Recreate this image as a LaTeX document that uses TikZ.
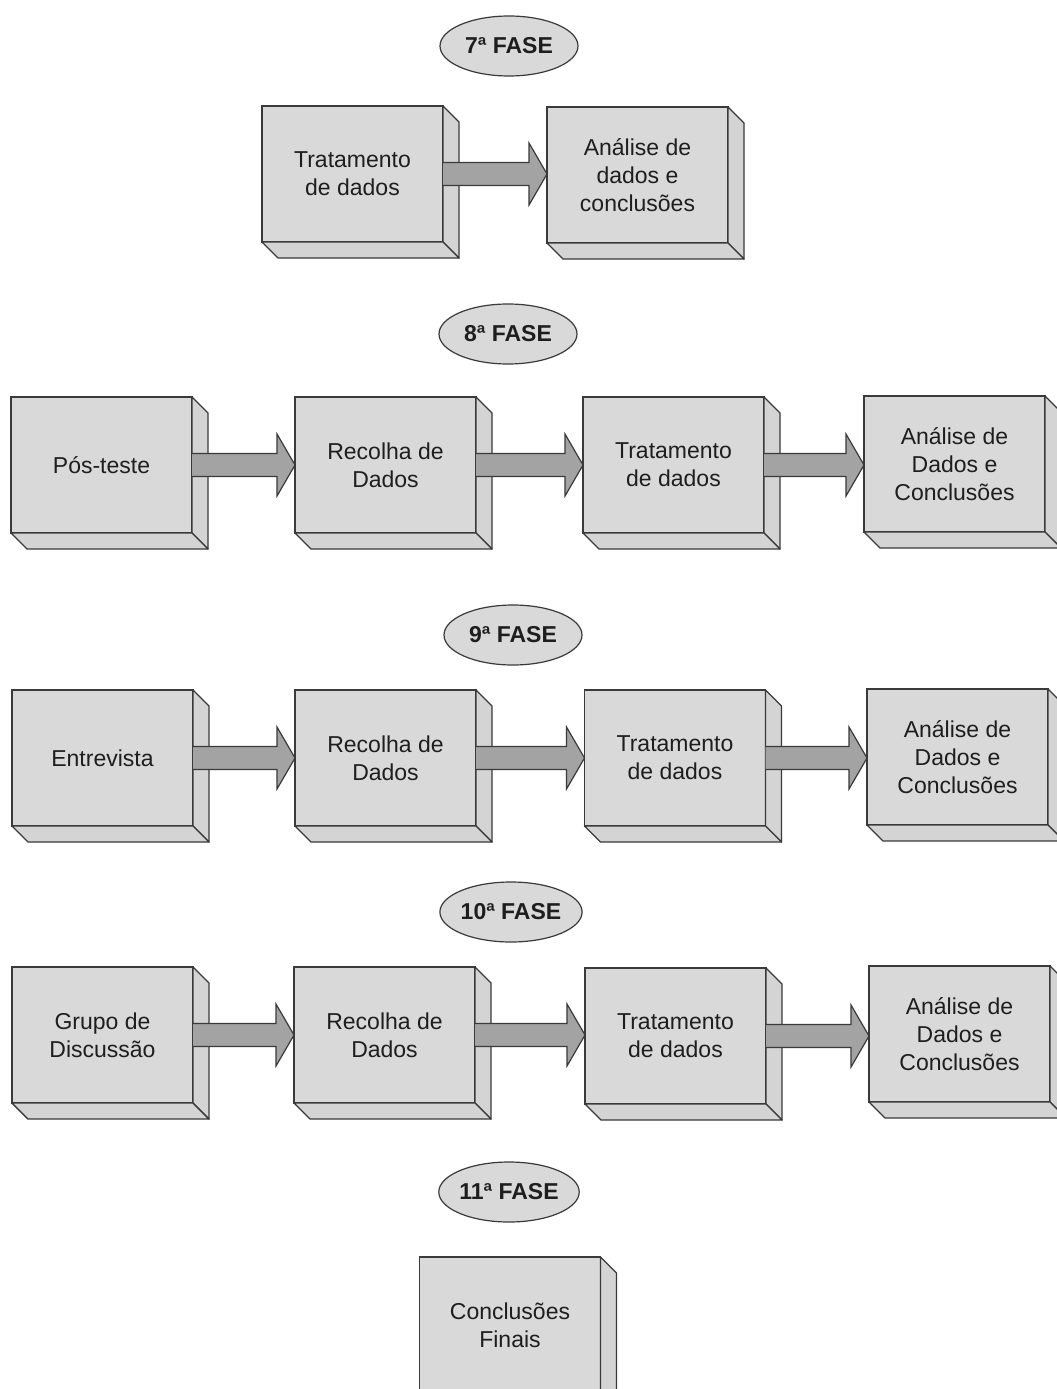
\documentclass[tikz,border=0pt]{standalone}
\usepackage{fontspec}
\setmainfont{Liberation Sans}
\usetikzlibrary{calc,shapes.geometric}

\definecolor{edge}{HTML}{3A3A3A}
\definecolor{face}{HTML}{D9D9D9}
\definecolor{sideface}{HTML}{D4D4D4}
\definecolor{arrowfill}{HTML}{A3A3A3}
\definecolor{ink}{HTML}{1E1E1E}

\tikzset{
  stagebox/.style={rectangle, draw=edge, fill=face, line width=1.4pt,
    minimum width=181pt, minimum height=136pt, inner sep=0pt, outer sep=0pt,
    align=center, text=ink, font=\fontsize{23}{28}\selectfont},
  phaselabel/.style={ellipse, draw=edge, fill=face, line width=1.2pt,
    minimum width=138pt, minimum height=60pt, inner sep=0pt,
    text=ink, font=\bfseries\fontsize{23}{27}\selectfont},
  boxside/.style={draw=edge, fill=sideface, line width=1.4pt, line join=round},
  flowarrow/.style={draw=edge, fill=arrowfill, line width=1.2pt, line join=miter},
}

% 3D depth of a stage box: right and bottom faces
\newcommand\boxdepth[1]{%
  \draw[boxside] (#1.north east) -- ++(16,16) -- ($(#1.south east)+(16,16)$)
    -- (#1.south east) -- cycle;
  \draw[boxside] (#1.south west) -- ++(16,16) -- ($(#1.south east)+(16,16)$)
    -- (#1.south east) -- cycle;
}
% block arrow from the front face of one box to the next (kept horizontal)
\newcommand\flowto[2]{%
  \coordinate (tipend) at (#1.east -| #2.west);
  \filldraw[flowarrow] ($(#1.east)+(0,-11.5)$) -- ($(tipend)+(-18,-11.5)$)
    -- ($(tipend)+(-18,-31)$) -- (tipend) -- ($(tipend)+(-18,31)$)
    -- ($(tipend)+(-18,11.5)$) -- ($(#1.east)+(0,11.5)$);
}

\begin{document}
\begin{tikzpicture}[x=1pt,y=-1pt]
\useasboundingbox (0,0) rectangle (1057,1389);
\clip (0,0) rectangle (1057,1389);
\fill[white] (0,0) rectangle (1057,1389);

% phase 7
\node[phaselabel] (p7) at (509,46) {7ª FASE};
\node[stagebox] (a1) at (352.5,174) {Tratamento\\de dados};
\node[stagebox] (a2) at (637.5,175) {Análise de\\dados e\\conclusões};
\boxdepth{a1}\boxdepth{a2}
\flowto{a1}{a2}

% phase 8
\node[phaselabel] (p8) at (508,334) {8ª FASE};
\node[stagebox] (b1) at (101.5,465) {Pós-teste};
\node[stagebox] (b2) at (385.5,465) {Recolha de\\Dados};
\node[stagebox] (b3) at (673.5,465) {Tratamento\\de dados};
\node[stagebox] (b4) at (954.5,464) {Análise de\\Dados e\\Conclusões};
\boxdepth{b1}\boxdepth{b2}\boxdepth{b3}\boxdepth{b4}
\flowto{b1}{b2}\flowto{b2}{b3}\flowto{b3}{b4}

% phase 9
\node[phaselabel] (p9) at (513,635) {9ª FASE};
\node[stagebox] (c1) at (102.5,758) {Entrevista};
\node[stagebox] (c2) at (385.5,758) {Recolha de\\Dados};
\node[stagebox] (c3) at (675,758) {Tratamento\\de dados};
\node[stagebox] (c4) at (957.5,757) {Análise de\\Dados e\\Conclusões};
\boxdepth{c1}\boxdepth{c2}\boxdepth{c3}\boxdepth{c4}
\flowto{c1}{c2}\flowto{c2}{c3}\flowto{c3}{c4}

% phase 10
\node[phaselabel] (p10) at (511,912) {10ª FASE};
\node[stagebox] (d1) at (102.5,1035) {Grupo de\\Discussão};
\node[stagebox] (d2) at (384.5,1035) {Recolha de\\Dados};
\node[stagebox] (d3) at (675.5,1036) {Tratamento\\de dados};
\node[stagebox] (d4) at (959.5,1034) {Análise de\\Dados e\\Conclusões};
\boxdepth{d1}\boxdepth{d2}\boxdepth{d3}\boxdepth{d4}
\flowto{d1}{d2}\flowto{d2}{d3}\flowto{d3}{d4}

% phase 11
\node[phaselabel] (p11) at (509,1192) {11ª FASE};
\node[stagebox] (e1) at (510,1325) {Conclusões\\Finais};
\boxdepth{e1}
\end{tikzpicture}
\end{document}
